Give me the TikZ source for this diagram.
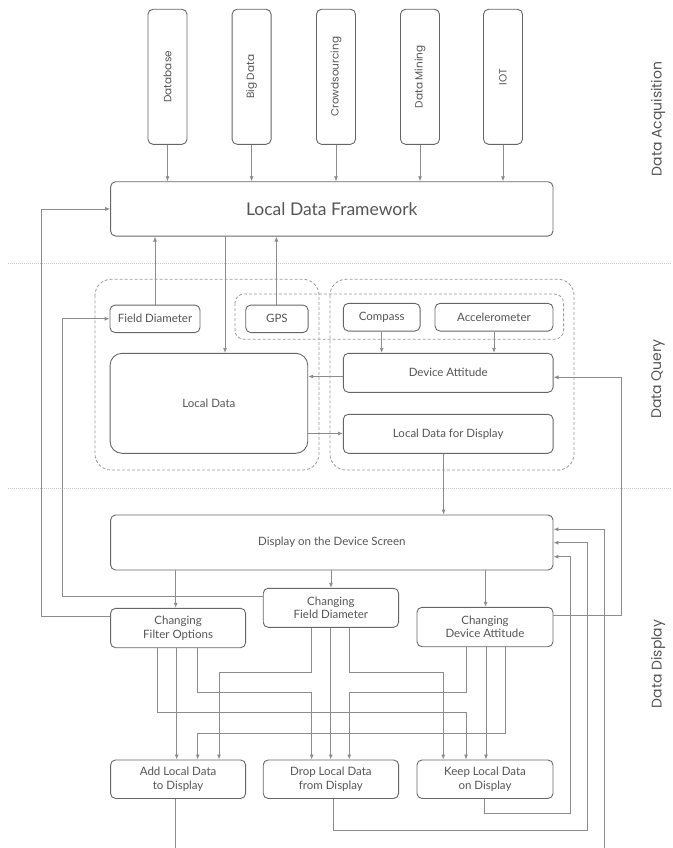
\documentclass[tikz,border=0pt]{standalone}
\usepackage{fontspec}
\setmainfont{Lato}
\newfontfamily\popfont{Poppins}
\usetikzlibrary{arrows.meta}
\definecolor{boxc}{HTML}{666666}
\definecolor{linec}{HTML}{8C8C8C}
\definecolor{txtc}{HTML}{555555}
\definecolor{dashc}{HTML}{9A9A9A}
\begin{document}
\begin{tikzpicture}[x=1pt,y=-1pt,
  box/.style={draw=boxc, line width=0.9pt, rounded corners=5pt, inner sep=0pt, text=txtc, font=\fontsize{11.5}{13.5}\selectfont, align=center},
  arr/.style={draw=linec, line width=0.8pt, -{Latex[length=5pt,width=4pt]}},
  grp/.style={draw=dashc, line width=0.8pt, dash pattern=on 3pt off 2pt, rounded corners=16pt},
  sep/.style={draw=gray!45, line width=0.6pt, dash pattern=on 1pt off 1pt},
  side/.style={rotate=90, text=txtc, font=\popfont\fontsize{14}{16}\selectfont},
  src/.style={box, rotate=90, minimum width=135pt, minimum height=39pt, font=\popfont\fontsize{10.5}{12}\selectfont}
]
\clip (0,0) rectangle (672,848);

% separators
\draw[sep] (8,263) -- (672,263);
\draw[sep] (8,488.3) -- (672,488.3);

% side labels
\node[side] (lacq) at (658,119) {Data Acquisition};
\node[side] (lqry) at (658,379) {Data Query};
\node[side] (ldsp) at (658,664) {Data Display};

% sources
\node[src] (db) at (167.5,76.8) {Database};
\node[src] (bd) at (251.6,76.8) {Big Data};
\node[src] (cs) at (336,76.8) {Crowdsourcing};
\node[src] (dm) at (420,76.8) {Data Mining};
\node[src] (iot) at (503,76.8) {IOT};

\node[box, minimum width=442.4pt, minimum height=54.3pt, font=\fontsize{17.5}{19}\selectfont] (ldf) at (331.8,208.9) {Local Data Framework};

\foreach \s in {db,bd,cs,dm,iot}{
  \draw[arr] (\s.west) -- (\s.west |- ldf.north);
}

% dashed groups
\draw[grp] (95,279.3) rectangle (319,470);
\draw[grp] (330,279.3) rectangle (574,470);
\draw[grp, rounded corners=9pt] (235,294) rectangle (563.6,339.3);

% query nodes
\node[box, minimum width=90pt, minimum height=27.5pt] (fd) at (155,318.8) {Field Diameter};
\node[box, minimum width=62.3pt, minimum height=27.5pt] (gps) at (276.9,318.8) {GPS};
\node[box, minimum width=76.7pt, minimum height=27.7pt] (cmp) at (381.7,317.2) {Compass};
\node[box, minimum width=118pt, minimum height=27.7pt] (acc) at (494,317.2) {Accelerometer};
\node[box, rounded corners=12pt, minimum width=197.7pt, minimum height=100pt] (ld) at (208.9,403.3) {Local Data};
\node[box, minimum width=209.7pt, minimum height=39pt] (da) at (448.2,372.8) {Device Attitude};
\node[box, minimum width=209.7pt, minimum height=39pt] (ldfd) at (448.2,433.8) {Local Data for Display};

\draw[arr] (fd.north) -- (fd.north |- ldf.south);
\draw[arr] (gps.north -| 276.4,0) -- (ldf.south -| 276.4,0);
\draw[arr] (ldf.south -| 225,0) -- (ld.north -| 225,0);
\draw[arr] (cmp.south) -- (cmp.south |- da.north);
\draw[arr] (acc.south) -- (acc.south |- da.north);
\draw[arr] (da.west |- 0,376.5) -- (ld.east |- 0,376.5);
\draw[arr] (ld.east |- 0,433.5) -- (ldfd.west |- 0,433.5);

% display nodes
\node[box, minimum width=442.4pt, minimum height=55pt] (dds) at (331.8,542.5) {Display on the Device Screen};
\node[box, minimum width=135pt, minimum height=39.4pt] (cfo) at (178.1,628) {Changing\\Filter Options};
\node[box, minimum width=135.4pt, minimum height=39pt] (cfd) at (330.9,607.8) {Changing\\Field Diameter};
\node[box, minimum width=136pt, minimum height=39.4pt] (cda) at (485,627) {Changing\\Device Attitude};
\node[box, minimum width=135pt, minimum height=38.5pt] (add) at (178.1,779.2) {Add Local Data\\to Display};
\node[box, minimum width=135.4pt, minimum height=38.5pt] (drop) at (330.9,779.2) {Drop Local Data\\from Display};
\node[box, minimum width=136pt, minimum height=38.5pt] (keep) at (485,779.2) {Keep Local Data\\on Display};

\draw[arr] (ldfd.south -| 443.6,0) -- (dds.north -| 443.6,0);
\draw[arr] (dds.south -| 175.7,0) -- (cfo.north -| 175.7,0);
\draw[arr] (dds.south -| 331,0) -- (cfd.north -| 331,0);
\draw[arr] (dds.south -| 485.6,0) -- (cda.north -| 485.6,0);

% feedback to upper levels
\draw[arr] (cfo.west |- 0,616) -- (41.6,616) |- (ldf.west);
\draw[arr] (cfd.west |- 0,596) -- (62,596) |- (fd.west);
\draw[arr] (cda.east |- 0,615.7) -- (621,615.7) |- (da.east |- 0,377.3);

% changers to actions
\draw[arr] (cfo.south -| 176.7,0) -- (add.north -| 176.7,0);
\draw[arr] (cfo.south -| 157.3,0) |- (466,712.7) -- (keep.north -| 466,0);
\draw[arr] (cfo.south -| 197.7,0) |- (311.7,692.3) -- (drop.north -| 311.7,0);
\draw[arr] (cfd.south -| 311.7,0) |- (219,672.3) -- (add.north -| 219,0);
\draw[arr] (cfd.south -| 330.7,0) -- (drop.north -| 330.7,0);
\draw[arr] (cfd.south -| 349.3,0) |- (443.3,672.3) -- (keep.north -| 443.3,0);
\draw[arr] (cda.south -| 466,0) |- (349.3,692.3) -- (drop.north -| 349.3,0);
\draw[arr] (cda.south -| 486,0) -- (keep.north -| 486,0);
\draw[arr] (cda.south -| 505,0) |- (197.7,733.3) -- (add.north -| 197.7,0);

% returns to display
\draw[arr] (keep.south -| 484.3,0) |- (570.7,813.3) |- (dds.east |- 0,556.7);
\draw[arr] (drop.south -| 333,0) |- (587.7,830.7) |- (dds.east |- 0,542.7);
\draw[arr] (add.south -| 175.7,0) |- (604,870) |- (dds.east |- 0,529.3);
\end{tikzpicture}
\end{document}
